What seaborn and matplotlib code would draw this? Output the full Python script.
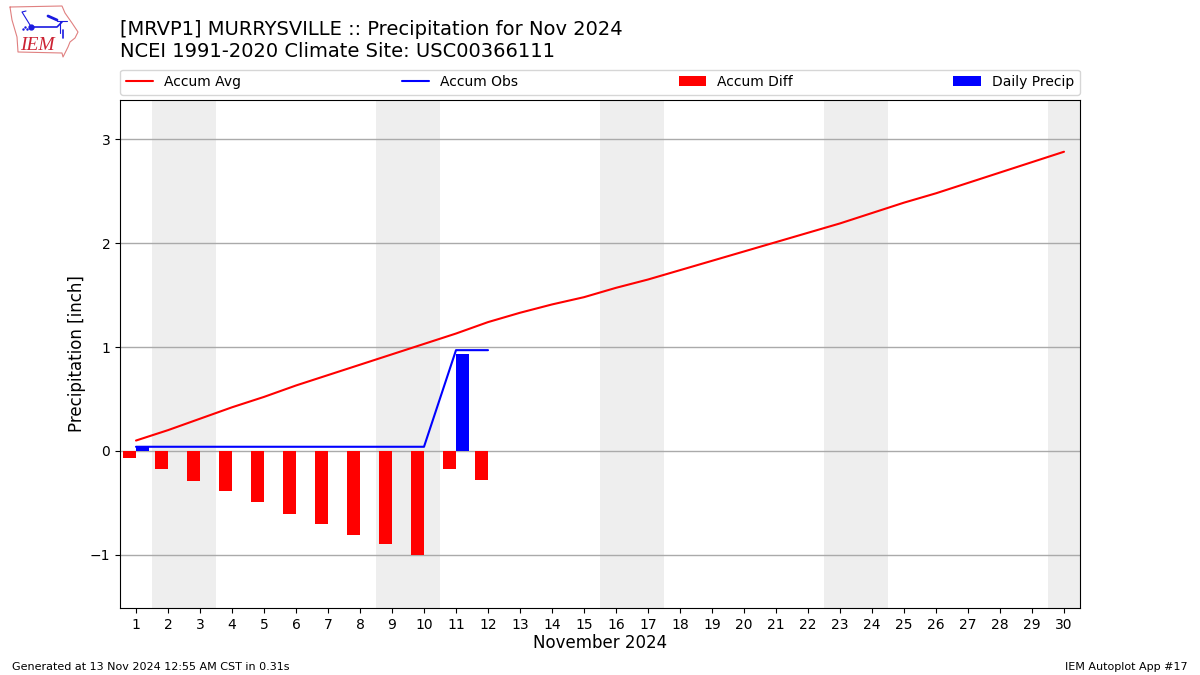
import numpy as np
import pandas as pd
import matplotlib
matplotlib.use("Agg")
import matplotlib.pyplot as plt
import seaborn as sns

days = list(range(1, 31))
accum_avg = [0.10, 0.20, 0.31, 0.42, 0.52, 0.63, 0.73, 0.83, 0.93, 1.03,
             1.13, 1.24, 1.33, 1.41, 1.48, 1.57, 1.65, 1.74, 1.83, 1.92,
             2.01, 2.10, 2.19, 2.29, 2.39, 2.48, 2.58, 2.68, 2.78, 2.88]
obs_days = list(range(1, 13))
accum_obs = [0.04, 0.04, 0.04, 0.04, 0.04, 0.04, 0.04, 0.04, 0.04, 0.04, 0.97, 0.97]
accum_diff = [-0.07, -0.17, -0.29, -0.39, -0.49, -0.61, -0.70, -0.81, -0.90, -1.00, -0.17, -0.28]
daily_precip = [0.04, 0, 0, 0, 0, 0, 0, 0, 0, 0, 0.93, 0]
weekends = [(1.5, 3.5), (8.5, 10.5), (15.5, 17.5), (22.5, 24.5), (29.5, 30.5)]

sns.set_theme(style="white", rc={"axes.edgecolor": "black", "xtick.bottom": True, "ytick.left": True})
plt.rcParams["font.family"] = ["DejaVu Sans"]

fig = plt.figure(figsize=(12, 6.75), dpi=100)
ax = fig.add_axes([120 / 1200, 1 - 608 / 675, 960 / 1200, 508 / 675])

avg_df = pd.DataFrame({"day": days, "val": accum_avg})
obs_df = pd.DataFrame({"day": obs_days, "val": accum_obs})

for lo, hi in weekends:
    ax.axvspan(lo, hi, color="#eeeeee", lw=0, zorder=0)

ax.bar(np.array(obs_days) - 0.2, accum_diff, width=0.4, color="red", edgecolor="none", lw=0,
       label="Accum Diff", zorder=2)
ax.bar(np.array(obs_days) + 0.2, daily_precip, width=0.4, color="blue", edgecolor="none", lw=0,
       label="Daily Precip", zorder=2)
sns.lineplot(data=avg_df, x="day", y="val", color="red", lw=1.5, label="Accum Avg", ax=ax, zorder=3)
sns.lineplot(data=obs_df, x="day", y="val", color="blue", lw=1.5, label="Accum Obs", ax=ax, zorder=3)

ax.set_xlim(0.5, 30.5)
ax.set_ylim(-1.512, 3.378)
ax.set_xticks(days)
ax.set_yticks([-1, 0, 1, 2, 3])
ax.set_yticklabels(["\u22121", "0", "1", "2", "3"])
ax.tick_params(labelsize=10, length=3.5, width=0.8, color="black", labelcolor="black", pad=3.5)
ax.yaxis.grid(True, color="#aaaaaa", lw=1, zorder=1)
ax.set_axisbelow(True)
for s in ax.spines.values():
    s.set_linewidth(0.8)
    s.set_color("black")
ax.set_xlabel("November 2024", fontsize=12, color="black", labelpad=2)
ax.set_ylabel("Precipitation [inch]", fontsize=12, color="black", labelpad=3)

handles, labels = ax.get_legend_handles_labels()
order = [labels.index(x) for x in ["Accum Avg", "Accum Obs", "Accum Diff", "Daily Precip"]]
leg = ax.legend([handles[i] for i in order], [labels[i] for i in order], ncol=4, mode="expand",
                loc="lower left", bbox_to_anchor=(0, 1.0105, 1, 0.05), borderaxespad=0, fontsize=10,
                frameon=True, edgecolor="#cccccc", labelcolor="black")

fig.text(120 / 1200, 1 - 61 / 675, "[MRVP1] MURRYSVILLE :: Precipitation for Nov 2024\nNCEI 1991-2020 Climate Site: USC00366111",
         fontsize=14, color="black", ha="left", va="bottom", linespacing=1.2)
fig.text(12 / 1200, 1 - 672 / 675, "Generated at 13 Nov 2024 12:55 AM CST in 0.31s", fontsize=8, color="black", va="bottom")
fig.text(1188 / 1200, 1 - 672 / 675, "IEM Autoplot App #17", fontsize=8, color="black", ha="right", va="bottom")

# small logo, state outline with a station plot and the letters in it
logo = fig.add_axes([0, 1 - 64 / 675, 90 / 1200, 64 / 675])
logo.set_xlim(0, 90)
logo.set_ylim(64, 0)
logo.axis("off")
logo.plot([10, 62, 65, 72, 78, 75, 70, 68, 63, 62, 18, 17, 12, 10],
          [7, 6, 13, 23, 32, 38, 42, 47, 57, 53, 52, 37, 20, 7],
          color="#e08080", lw=0.8)
logo.plot([31, 57, 62], [27, 27, 22], color="#1a1ae0", lw=1.2)
logo.plot([31], [27], "o", color="#1a1ae0", ms=3.5)
logo.plot([48, 57], [16, 20], color="#1a1ae0", lw=2)
logo.plot([57, 67], [21, 21], color="#1a1ae0", lw=0.8)
logo.plot([60, 60], [22, 33], color="#1a1ae0", lw=0.8)
logo.plot([63, 63], [30, 38], color="#1a1ae0", lw=1.2)
logo.plot([26, 22, 30], [11, 12, 25], color="#1a1ae0", lw=0.8)
logo.plot([23, 25, 27], [29, 27, 29], ".", color="#1a1ae0", ms=1.5)
logo.text(20, 54, "IEM", color="#cc2233", fontsize=14, family="Liberation Serif", style="italic", va="bottom")

fig.savefig("out.png", dpi=100)
